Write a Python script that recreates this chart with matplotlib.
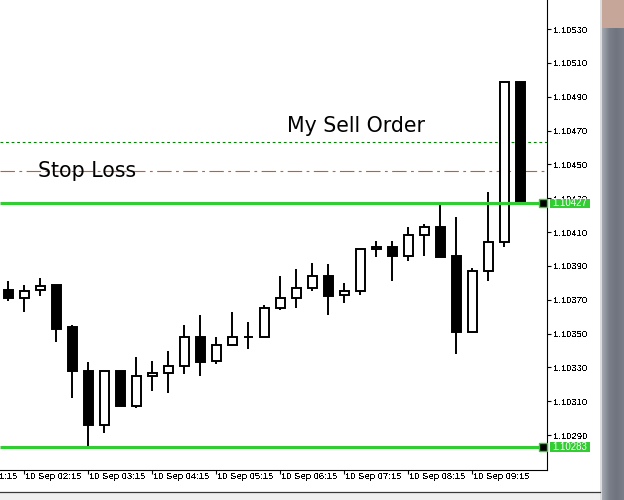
import matplotlib
matplotlib.use("Agg")
import matplotlib.pyplot as plt
import matplotlib.transforms as mtransforms
from matplotlib.patches import Rectangle
from matplotlib.colors import LinearSegmentedColormap
import numpy as np

# ---------------- data ----------------
opens = [1.10376, 1.10371, 1.10376, 1.10379, 1.10354, 1.10328, 1.10296, 1.10328, 1.10307, 1.10325,
         1.10327, 1.10331, 1.10348, 1.10334, 1.10343, 1.10348, 1.10348, 1.10365, 1.10371, 1.10377,
         1.10384, 1.10373, 1.10375, 1.10400, 1.10401, 1.10396, 1.10408, 1.10413, 1.10396, 1.10351,
         1.10387, 1.10404, 1.10499]
highs = [1.10381, 1.10379, 1.10383, 1.10379, 1.10355, 1.10333, 1.10328, 1.10328, 1.10336, 1.10334,
         1.10340, 1.10355, 1.10361, 1.10348, 1.10363, 1.10357, 1.10367, 1.10384, 1.10388, 1.10392,
         1.10391, 1.10380, 1.10400, 1.10405, 1.10405, 1.10413, 1.10415, 1.10426, 1.10419, 1.10389,
         1.10434, 1.10499, 1.10499]
lows = [1.10369, 1.10363, 1.10372, 1.10345, 1.10312, 1.10283, 1.10291, 1.10307, 1.10306, 1.10316,
        1.10315, 1.10326, 1.10325, 1.10332, 1.10343, 1.10341, 1.10348, 1.10364, 1.10365, 1.10375,
        1.10361, 1.10368, 1.10373, 1.10395, 1.10381, 1.10393, 1.10396, 1.10395, 1.10338, 1.10351,
        1.10381, 1.10401, 1.10427]
closes = [1.10371, 1.10375, 1.10378, 1.10353, 1.10328, 1.10296, 1.10328, 1.10307, 1.10325, 1.10327,
          1.10331, 1.10348, 1.10333, 1.10343, 1.10348, 1.10348, 1.10365, 1.10371, 1.10377, 1.10384,
          1.10372, 1.10375, 1.10400, 1.10401, 1.10396, 1.10408, 1.10413, 1.10395, 1.10351, 1.10387,
          1.10404, 1.10499, 1.10428]

time_labels = ["10 Sep 01:15", "10 Sep 02:15", "10 Sep 03:15", "10 Sep 04:15", "10 Sep 05:15",
               "10 Sep 06:15", "10 Sep 07:15", "10 Sep 08:15", "10 Sep 09:15"]
price_ticks = [1.10290, 1.10310, 1.10330, 1.10350, 1.10370, 1.10390, 1.10410, 1.10430,
               1.10450, 1.10470, 1.10490, 1.10510, 1.10530]

bid_price = 1.10427
low_level = 1.10283
sell_order = 1.10463
stop_loss = 1.10446
sell_label = "My Sell Order"
sl_label = "Stop Loss"

# ---------------- style ----------------
GREEN = "#32CD32"
TICKFONT = "Liberation Sans"
TS = 6.8

fig = plt.figure(figsize=(6.24, 5.0), dpi=100)
fig.patch.set_facecolor("white")

# window chrome (bottom strip and right scrollbar area)
fig.add_artist(Rectangle((0, 0), 600 / 624, 8 / 500, transform=fig.transFigure,
                         facecolor="#f0f0f0", edgecolor="none", zorder=0))
fig.add_artist(plt.Line2D([0, 600 / 624], [8 / 500, 8 / 500], transform=fig.transFigure,
                          color="#3a3a3a", lw=0.9, zorder=1))
fig.add_artist(Rectangle((600 / 624, 0), 2 / 624, 1, transform=fig.transFigure,
                         facecolor="#dcdcdc", edgecolor="none", zorder=0))
gax = fig.add_axes([602 / 624, 0, 22 / 624, 1])
grad = np.linspace(0, 1, 50)[None, :]
cm = LinearSegmentedColormap.from_list("g", ["#a4a8b0", "#7a7e88", "#70747e", "#7a7e88"])
gax.imshow(grad, aspect="auto", cmap=cm, extent=[0, 1, 0, 1])
gax.add_patch(Rectangle((0, 1 - 28 / 500), 1, 28 / 500, facecolor="#c6a698", edgecolor="none"))
gax.set_xlim(0, 1)
gax.set_ylim(0, 1)
gax.axis("off")

# main axes
ax = fig.add_axes([0, 29.7 / 500, 547.3 / 624, 470.3 / 500])
n = len(opens)
x = np.arange(n)
ax.set_xlim(-0.519, 33.69)
ax.set_ylim(1.102692, 1.105472)

for s in ["left", "top"]:
    ax.spines[s].set_visible(False)
for s in ["right", "bottom"]:
    ax.spines[s].set_color("black")
    ax.spines[s].set_linewidth(0.8)

# candles
o = np.array(opens); c = np.array(closes); h = np.array(highs); l = np.array(lows)
up = c >= o
ax.vlines(x, l, h, color="black", lw=1.4, zorder=3)
bottoms = np.minimum(o, c)
heights = np.abs(c - o)
ax.bar(x, heights, width=0.5625, bottom=bottoms,
       color=np.where(up, "white", "black"), edgecolor="black", linewidth=1.4, zorder=4)

# order lines (behind candles)
ax.axhline(sell_order, color="#008000", lw=0.8, dashes=(2.5, 2.5), zorder=2)
ax.axhline(stop_loss, color="#E8501A", lw=0.8, dashes=(13, 4, 2.5, 4), zorder=2)

# bid / low levels
ax.hlines([bid_price, low_level], -0.519, 33.39, color=GREEN, lw=2.2, zorder=6)
ax.plot([33.39, 33.39], [bid_price, low_level], ls="none", marker="s", markersize=5.6,
        mfc="black", mec=GREEN, mew=1.0, zorder=7, clip_on=False)

# texts
ax.text(17.4, 1.104690, sell_label, fontsize=14.8, family="DejaVu Sans",
        ha="left", va="baseline", color="black", zorder=8)
ax.text(1.86, 1.104424, sl_label, fontsize=14.8, family="DejaVu Sans",
        ha="left", va="baseline", color="black", zorder=8)

# x ticks and labels
tick_idx = [4 * k - 3 for k in range(len(time_labels))]
ax.set_xticks([t for t in tick_idx if t >= 0])
ax.set_xticklabels([])
ax.tick_params(axis="x", direction="out", length=2.9, width=0.8, color="black")
trans_x = mtransforms.blended_transform_factory(ax.transData, ax.transAxes)
for t, lab in zip(tick_idx, time_labels):
    tx = ax.text(t + 0.06, -0.0125, lab, transform=trans_x, ha="left", va="center",
                 fontsize=TS, family=TICKFONT, clip_on=False)
    tx.set_antialiased(False)

# y axis on right
ax.yaxis.tick_right()
ax.set_yticks(price_ticks)
ax.set_yticklabels([f"{p:.5f}" for p in price_ticks])
ax.tick_params(axis="y", direction="out", length=2.9, width=0.8, pad=1.2,
               labelsize=TS, color="black")
for lab in ax.get_yticklabels():
    lab.set_family(TICKFONT)
    lab.set_antialiased(False)

# price tags
trans_y = mtransforms.blended_transform_factory(ax.transAxes, ax.transData)
half = 4.65 / 169200
for p in [bid_price, low_level]:
    ax.add_patch(Rectangle((550 / 547.3, p - half), 40 / 547.3, 2 * half, transform=trans_y,
                           facecolor=GREEN, edgecolor="none", clip_on=False, zorder=9))
    ax.text(552 / 547.3, p, f"{p:.5f}", transform=trans_y, ha="left", va="center",
            fontsize=TS + 0.2, family=TICKFONT, color="white", clip_on=False, zorder=10)

fig.savefig("out.png", dpi=100)
